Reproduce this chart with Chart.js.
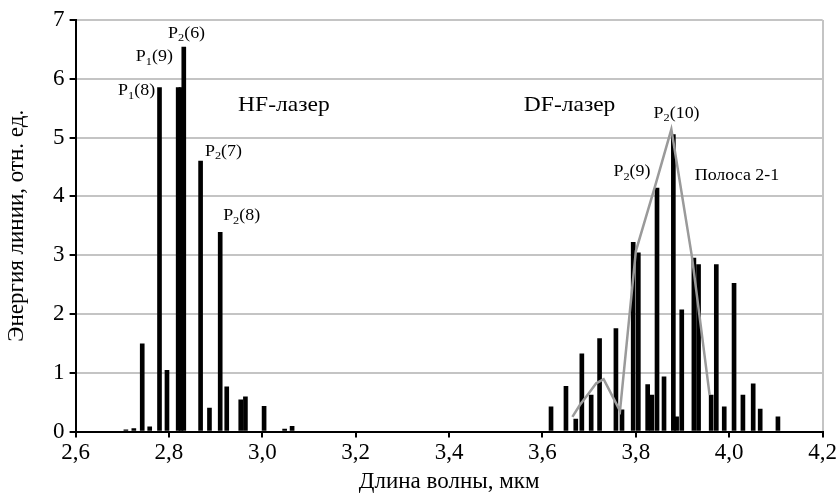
<!DOCTYPE html>
<html lang="ru">
<head>
<meta charset="utf-8">
<title>HF / DF laser lines</title>
<script src="https://cdn.jsdelivr.net/npm/chart.js@4.4.1/dist/chart.umd.min.js"></script>
<style>
  html, body { margin: 0; padding: 0; background: #fff; }
  #wrap { position: relative; width: 839px; height: 496px; }
</style>
</head>
<body>
<div id="wrap"><canvas id="chart"></canvas></div>
<script>
/* ── Data ─────────────────────────────────────────────────────────────── */

// HF laser lines (wavelength, um / relative energy)
var hfWave   = [2.712, 2.729, 2.747, 2.763, 2.784, 2.800, 2.824, 2.830, 2.836,
                2.872, 2.891, 2.914, 2.928, 2.958, 2.968, 3.008, 3.052, 3.068];
var hfEnergy = [0.03, 0.05, 1.49, 0.08, 5.85, 1.04, 5.85, 5.85, 6.54,
                4.60, 0.40, 3.39, 0.76, 0.54, 0.59, 0.43, 0.04, 0.09];

// DF laser lines
var dfWave   = [3.614, 3.646, 3.667, 3.680, 3.700, 3.718, 3.753, 3.766, 3.790,
                3.801, 3.821, 3.830, 3.841, 3.856, 3.876, 3.883, 3.894, 3.920,
                3.930, 3.957, 3.968, 3.985, 4.006, 4.025, 4.047, 4.062, 4.100];
var dfEnergy = [0.42, 0.77, 0.21, 1.32, 0.62, 1.58, 1.75, 0.37, 3.22,
                3.04, 0.80, 0.62, 4.14, 0.93, 5.05, 0.25, 2.07, 2.95,
                2.84, 0.62, 2.84, 0.42, 2.52, 0.62, 0.81, 0.38, 0.25];

// Band 2-1 envelope (grey line)
var bandWave   = [3.664, 3.680, 3.700, 3.715, 3.731, 3.766, 3.800, 3.841, 3.876, 3.920, 3.958];
var bandEnergy = [0.25, 0.45, 0.66, 0.82, 0.89, 0.35, 3.07, 4.17, 5.14, 2.98, 0.62];

var xTicks = [2.6, 2.8, 3.0, 3.2, 3.4, 3.6, 3.8, 4.0, 4.2];
var yTicks = [0, 1, 2, 3, 4, 5, 6, 7];

/* ── Helpers ──────────────────────────────────────────────────────────── */

function pairs(xs, ys) {
  return xs.map(function (x, i) { return { x: x, y: ys[i] }; });
}

function fmtComma(v) {
  return Number(v).toFixed(1).replace('.', ',');
}

var SERIF = '"Liberation Serif", "Times New Roman", serif';
var STRETCH = 1.12;   // the source figure's text is a bit wide

// Text labels on the plot, anchored at data coords (left edge, baseline)
var notes = [
  { p: 'P', sub: '1', tail: '(8)',  x: 2.691, y: 5.72, size: 16 },
  { p: 'P', sub: '1', tail: '(9)',  x: 2.729, y: 6.30, size: 16 },
  { p: 'P', sub: '2', tail: '(6)',  x: 2.798, y: 6.70, size: 16 },
  { p: 'P', sub: '2', tail: '(7)',  x: 2.877, y: 4.69, size: 16 },
  { p: 'P', sub: '2', tail: '(8)',  x: 2.916, y: 3.59, size: 16 },
  { p: 'P', sub: '2', tail: '(10)', x: 3.838, y: 5.34, size: 16 },
  { p: 'P', sub: '2', tail: '(9)',  x: 3.752, y: 4.34, size: 16 },
  { p: 'HF-лазер',   x: 2.948, y: 5.46, size: 21 },
  { p: 'DF-лазер',   x: 3.560, y: 5.46, size: 21 },
  { p: 'Полоса 2-1', x: 3.926, y: 4.27, size: 16 }
];

// drawn under the datasets: white boxes hide the grid, bars stay on top
var notesPlugin = {
  id: 'notes',
  beforeDatasetsDraw: function (chart) {
    var ctx = chart.ctx;
    var xs = chart.scales.x, ys = chart.scales.y;
    notes.forEach(function (n) {
      var px = xs.getPixelForValue(n.x);
      var py = ys.getPixelForValue(n.y);
      var big = n.size + 'px ' + SERIF;
      var small = Math.round(n.size * 0.7) + 'px ' + SERIF;
      ctx.save();
      ctx.translate(px, py);
      ctx.scale(STRETCH, 1);
      ctx.textBaseline = 'alphabetic';
      ctx.font = big;
      var w1 = ctx.measureText(n.p).width;
      var w3 = n.tail ? ctx.measureText(n.tail).width : 0;
      ctx.font = small;
      var w2 = n.sub ? ctx.measureText(n.sub).width : 0;
      ctx.fillStyle = '#fff';
      ctx.fillRect(-2, -n.size * 0.85, w1 + w2 + w3 + 4, n.size * 1.1);
      ctx.fillStyle = '#000';
      ctx.font = big;
      ctx.fillText(n.p, 0, 0);
      if (n.sub) {
        ctx.font = small;
        ctx.fillText(n.sub, w1, n.size * 0.22);
        ctx.font = big;
        ctx.fillText(n.tail, w1 + w2, 0);
      }
      ctx.restore();
    });
  }
};

/* ── Chart ────────────────────────────────────────────────────────────── */

new Chart(document.getElementById('chart'), {
  type: 'bar',
  data: {
    datasets: [
      {
        type: 'line',
        label: 'Полоса 2-1',
        data: pairs(bandWave, bandEnergy),
        borderColor: '#9a9a9a',
        borderWidth: 2.5,
        pointRadius: 0,
        tension: 0,
        fill: false
      },
      {
        label: 'HF',
        data: pairs(hfWave, hfEnergy),
        backgroundColor: '#000',
        barThickness: 4
      },
      {
        label: 'DF',
        data: pairs(dfWave, dfEnergy),
        backgroundColor: '#000',
        barThickness: 4
      }
    ]
  },
  options: {
    responsive: true,
    maintainAspectRatio: false,
    animation: false,
    layout: { padding: { left: 0, right: 16, top: 20, bottom: 0 } },
    plugins: {
      legend: { display: false },
      tooltip: { enabled: false }
    },
    scales: {
      x: {
        type: 'linear',
        offset: false,
        min: 2.6,
        max: 4.2,
        afterBuildTicks: function (scale) {
          scale.ticks = xTicks.map(function (v) { return { value: v }; });
        },
        afterFit: function (scale) { scale.height = 64.5; },
        ticks: {
          color: '#000',
          padding: 2,
          maxRotation: 0,
          autoSkip: false,
          font: { family: SERIF, size: 23 },
          callback: function (v) { return fmtComma(v); }
        },
        grid: {
          offset: false,
          drawOnChartArea: true,
          tickLength: 6,
          tickColor: '#000',
          lineWidth: 2,
          color: function (c) {
            return c.tick && Math.abs(c.tick.value - 4.2) < 1e-6 ? '#c4c4c4' : 'rgba(0,0,0,0)';
          }
        },
        border: { color: '#000', width: 2 },
        title: {
          display: true,
          text: 'Длина волны, мкм',
          color: '#000',
          padding: { top: 0, bottom: 0 },
          font: { family: SERIF, size: 23 }
        }
      },
      y: {
        min: 0,
        max: 7,
        afterBuildTicks: function (scale) {
          scale.ticks = yTicks.map(function (v) { return { value: v }; });
        },
        afterFit: function (scale) { scale.width = 75.6; },
        ticks: {
          color: '#000',
          padding: 5,
          font: { family: SERIF, size: 23 }
        },
        grid: {
          lineWidth: 2,
          tickLength: 6,
          tickColor: '#000',
          color: function (c) {
            return c.tick && c.tick.value === 0 ? '#000' : '#c4c4c4';
          }
        },
        border: { color: '#000', width: 2 },
        title: {
          display: true,
          text: 'Энергия линии, отн. ед.',
          color: '#000',
          padding: { top: 3, bottom: 0 },
          font: { family: SERIF, size: 23 }
        }
      }
    }
  },
  plugins: [notesPlugin]
});
</script>
</body>
</html>
